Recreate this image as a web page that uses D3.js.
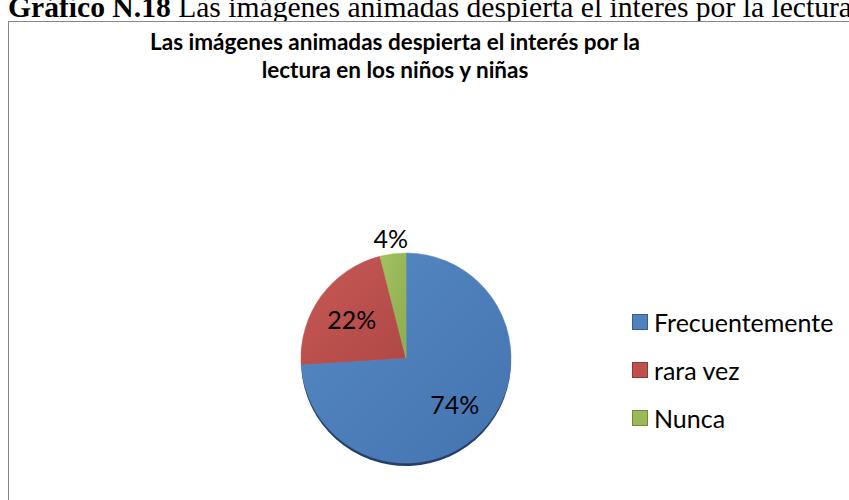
<!DOCTYPE html>
<html><head><meta charset="utf-8">
<script src="https://cdn.jsdelivr.net/npm/d3@7"></script>
<style>body{margin:0;background:#fff;}svg{display:block;}</style>
</head><body>
<script>
const categories = ["Frecuentemente", "rara vez", "Nunca"];
const values = [74, 22, 4];
const labels = ["74%", "22%", "4%"];
const colors = ["#4F81BD", "#C0504D", "#9BBB59"];
const darkColors = ["#4474AE", "#AF4845", "#8DAB50"];
const lightColors = ["#5689C6", "#C75955", "#A2C262"];
const edgeColors = ["#385D8A", "#8C3836", "#71893F"];
const titleLines = ["Las imágenes animadas despierta el interés por la", "lectura en los niños y niñas"];

const W = 849, H = 500;
const svg = d3.select("body").append("svg").attr("width", W).attr("height", H);
const defs = svg.append("defs");

// document caption above the chart box
const cap = svg.append("text").attr("x", 8).attr("y", 17)
  .attr("font-family", "'Liberation Serif', 'Times New Roman', serif").attr("font-size", 29.6).attr("fill", "#000");
cap.append("tspan").attr("font-weight", "bold").text("Gráfico N.18");
cap.append("tspan").text(" Las imágenes animadas despierta el interés por la lectura");

// chart box
svg.append("rect").attr("x", 8.5).attr("y", 21.5).attr("width", 900).attr("height", 600)
  .attr("fill", "#fff").attr("stroke", "#868686").attr("stroke-width", 1);

// title
const title = svg.append("text").attr("text-anchor", "middle")
  .attr("font-family", "Lato, 'Open Sans', sans-serif").attr("font-weight", "bold").attr("font-size", 22.5).attr("fill", "#000");
titleLines.forEach((t, i) => title.append("tspan").attr("x", 395).attr("y", 50 + i * 28).text(t));

// pie
const cx = 406, cy = 358, r = 105;
const pie = d3.pie().sort(null).value(d => d);
const arcs = pie(values);
const arc = d3.arc().innerRadius(0).outerRadius(r);
const shadowArc = d3.arc().innerRadius(0).outerRadius(r);
const labelArc = d3.arc().innerRadius(67).outerRadius(67);
const outerLabelArc = d3.arc().innerRadius(121).outerRadius(121);

colors.forEach((c, i) => {
  const g = defs.append("linearGradient").attr("id", "g" + i)
    .attr("x1", "0%").attr("y1", "0%").attr("x2", "100%").attr("y2", "100%");
  g.append("stop").attr("offset", "0%").attr("stop-color", lightColors[i]);
  g.append("stop").attr("offset", "100%").attr("stop-color", darkColors[i]);
});

const pg = svg.append("g").attr("transform", `translate(${cx},${cy})`);
// shadow/edge under the pie
pg.append("g").attr("transform", "translate(0,3)")
  .selectAll("path").data(arcs).join("path")
  .attr("d", shadowArc).attr("fill", "#24406A");
pg.append("g").selectAll("path").data(arcs).join("path")
  .attr("d", arc).attr("fill", (d, i) => `url(#g${i})`)
  .attr("stroke", (d, i) => lightColors[i]).attr("stroke-width", 0.5);

const lg = svg.append("g").attr("transform", `translate(${cx},${cy})`)
  .attr("font-family", "Lato, 'Open Sans', sans-serif").attr("font-size", 25).attr("fill", "#000");
lg.selectAll("text").data(arcs).join("text")
  .attr("transform", (d, i) => `translate(${(i === 2 ? outerLabelArc : labelArc).centroid(d)})`)
  .attr("text-anchor", "middle").attr("dominant-baseline", "central")
  .text((d, i) => labels[i]);

// legend
const leg = svg.append("g").attr("font-family", "Lato, 'Open Sans', sans-serif").attr("font-size", 25);
const ly = d3.scalePoint().domain(categories).range([322, 418]);
const items = leg.selectAll("g").data(categories).join("g")
  .attr("transform", d => `translate(632,${ly(d)})`);
items.append("rect").attr("x", 0.5).attr("y", -7.5).attr("width", 15).attr("height", 15)
  .attr("fill", (d, i) => colors[i]).attr("stroke", (d, i) => edgeColors[i]).attr("stroke-width", 1);
items.append("text").attr("x", 22).attr("y", 0).attr("dominant-baseline", "central").attr("fill", "#000").text(d => d);
</script>
</body></html>
